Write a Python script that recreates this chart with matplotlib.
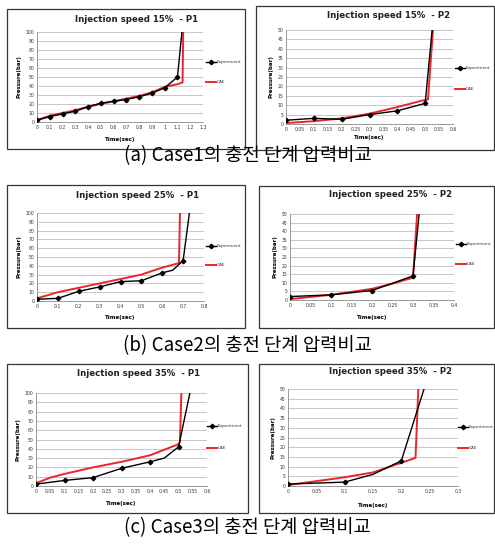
import matplotlib
matplotlib.use("Agg")
import matplotlib.pyplot as plt
from matplotlib.patches import Rectangle
import numpy as np

plt.rcParams['font.family'] = ['DejaVu Sans']

# ---------------- data ----------------
titles = ["Injection speed 15%  - P1", "Injection speed 15%  - P2",
          "Injection speed 25%  - P1", "Injection speed 25%  - P2",
          "Injection speed 35%  - P1", "Injection speed 35%  - P2"]
captions = ["(a) Case1의 충전 단계 압력비교",
            "(b) Case2의 충전 단계 압력비교",
            "(c) Case3의 충전 단계 압력비교"]

exp1_t = [0, 0.1, 0.2, 0.3, 0.4, 0.5, 0.6, 0.7, 0.8, 0.9, 1.0, 1.1, 1.135]
exp1_p = [2, 6, 9, 12, 17, 21, 23, 25, 28, 32, 38, 50, 100]
cae1_t = [0, 0.1, 0.2, 0.3, 0.4, 0.5, 0.6, 0.7, 0.8, 0.9, 1.0, 1.1, 1.14, 1.145]
cae1_p = [2, 7, 10, 13, 17, 20, 23, 26, 29, 33, 39, 42, 44, 100]

exp2_t = [0, 0.1, 0.2, 0.3, 0.4, 0.5, 0.525]
exp2_p = [2, 3, 2.5, 5, 7, 11, 50]
cae2_t = [0, 0.1, 0.2, 0.3, 0.4, 0.49, 0.51, 0.528]
cae2_p = [0.5, 1.5, 3, 5.5, 9, 12.5, 13, 50]

exp3_t = [0, 0.1, 0.2, 0.3, 0.4, 0.5, 0.6, 0.65, 0.7, 0.73]
exp3_p = [2, 3, 11, 16, 22, 23, 32, 35, 46, 100]
cae3_t = [0, 0.1, 0.2, 0.3, 0.4, 0.5, 0.6, 0.68, 0.685]
cae3_p = [3, 10, 15, 20, 25, 30, 38, 43, 100]

exp4_t = [0, 0.1, 0.2, 0.3, 0.315]
exp4_p = [2, 3, 5.5, 14, 50]
cae4_t = [0, 0.1, 0.2, 0.25, 0.3, 0.31]
cae4_p = [0.5, 3, 6.5, 9.5, 13, 50]

exp5_t = [0, 0.1, 0.2, 0.3, 0.4, 0.45, 0.5, 0.54]
exp5_p = [2, 6, 9, 19, 26, 30, 42, 100]
cae5_t = [0, 0.05, 0.1, 0.2, 0.3, 0.4, 0.5, 0.505, 0.51]
cae5_p = [3, 9, 13, 20, 26, 33, 45, 47, 100]

exp6_t = [0, 0.1, 0.15, 0.2, 0.24]
exp6_p = [1, 2, 6, 13, 50]
cae6_t = [0, 0.1, 0.15, 0.2, 0.225, 0.23]
cae6_p = [0.5, 4.5, 7, 12, 14.5, 50]

exp_marks = [[0, 1, 2, 3, 4, 5, 6, 7, 8, 9, 10, 11],
             [0, 1, 2, 3, 4, 5],
             [0, 1, 2, 3, 4, 5, 6, 8],
             [0, 1, 2, 3],
             [0, 1, 2, 3, 4, 6],
             [0, 1, 3]]

xmax = [1.3, 0.6, 0.8, 0.4, 0.6, 0.3]
xstep = [0.1, 0.05, 0.1, 0.05, 0.05, 0.05]
ymax = [100, 50, 100, 50, 100, 50]
ystep = [10, 5, 10, 5, 10, 5]

exps = [(exp1_t, exp1_p), (exp2_t, exp2_p), (exp3_t, exp3_p),
        (exp4_t, exp4_p), (exp5_t, exp5_p), (exp6_t, exp6_p)]
caes = [(cae1_t, cae1_p), (cae2_t, cae2_p), (cae3_t, cae3_p),
        (cae4_t, cae4_p), (cae5_t, cae5_p), (cae6_t, cae6_p)]

# ---------------- layout (pixels) ----------------
W, H = 495, 544
boxes = [(7, 9, 245, 149), (256, 6, 494, 150),
         (7, 185, 245, 328), (259, 186, 494, 328),
         (7, 364, 248, 513), (259, 364, 494, 513)]
plots = [(37, 32, 203, 122), (286, 30, 453, 124),
         (37, 213, 204, 301), (290, 214, 454, 300),
         (36, 393, 207, 486), (288, 389, 458, 486)]
title_pos = [(137, 20), (389, 16), (138, 196), (391, 194), (139, 373), (391, 372)]
xlab_y = [139, 138, 317, 317, 504, 505]
leg_pos = [(206, 62, 82), (455, 68, 89), (206, 246, 265),
           (456, 244, 264), (207, 426, 448), (458, 427, 448)]
cap_y = [156, 346, 528]

fig = plt.figure(figsize=(W / 100, H / 100), dpi=100)


def fx(x):
    return x / W


def fy(y):
    return 1 - y / H


def fmt(v):
    return ("%.2f" % v).rstrip('0').rstrip('.')


for i in range(6):
    bx0, by0, bx1, by1 = boxes[i]
    fig.patches.append(Rectangle((fx(bx0), fy(by1)), fx(bx1 - bx0), (by1 - by0) / H,
                                 transform=fig.transFigure, fill=False,
                                 edgecolor='#333333', linewidth=0.9))
    px0, py0, px1, py1 = plots[i]
    ax = fig.add_axes([fx(px0), fy(py1), fx(px1 - px0), (py1 - py0) / H])
    et, ep = exps[i]
    ct, cp = caes[i]
    ax.plot(ct, cp, color='#e8262b', linewidth=1.4, zorder=3, label='CAE')
    ax.plot(et, ep, color='black', linewidth=1.0, marker='D', markersize=2.3,
            markevery=exp_marks[i], zorder=4, label='Experiment')
    ax.set_xlim(0, xmax[i])
    ax.set_ylim(0, ymax[i])
    xt = np.round(np.arange(0, xmax[i] + 1e-9, xstep[i]), 2)
    ax.set_xticks(xt)
    ax.set_xticklabels([fmt(v) for v in xt])
    yt = np.arange(0, ymax[i] + 1, ystep[i])
    ax.set_yticks(yt)
    ax.set_yticklabels([str(int(v)) for v in yt])
    ax.tick_params(labelsize=3.3, length=0, pad=2, colors='#333333')
    ax.grid(axis='y', color='#b0b0b0', linewidth=0.5)
    ax.set_axisbelow(True)
    for s in ['top', 'right']:
        ax.spines[s].set_visible(False)
    for s in ['left', 'bottom']:
        ax.spines[s].set_color('#888888')
        ax.spines[s].set_linewidth(0.6)
    ax.set_ylabel('Pressure(bar)', fontsize=4, fontweight='bold', labelpad=3)
    fig.text(fx((px0 + px1) / 2), fy(xlab_y[i]), 'Time(sec)', fontsize=4,
             fontweight='bold', ha='center', va='center')
    tx, ty = title_pos[i]
    fig.text(fx(tx), fy(ty), titles[i], fontsize=6.2, fontweight='bold',
             ha='center', va='center', color='#222222')
    # legend entries
    lx, ly1, ly2 = leg_pos[i]
    fig.lines.append(plt.Line2D([fx(lx), fx(lx + 10)], [fy(ly1), fy(ly1)],
                                transform=fig.transFigure, color='black',
                                linewidth=1.0))
    fig.lines.append(plt.Line2D([fx(lx + 5)], [fy(ly1)], transform=fig.transFigure,
                                color='black', marker='D', markersize=2.3,
                                linestyle='None'))
    fig.lines.append(plt.Line2D([fx(lx), fx(lx + 10)], [fy(ly2), fy(ly2)],
                                transform=fig.transFigure, color='#e8262b',
                                linewidth=1.4))
    fig.text(fx(lx + 11), fy(ly1), 'Experiment', fontsize=3.1,
             ha='left', va='center', color='#333333')
    fig.text(fx(lx + 11), fy(ly2), 'CAE', fontsize=3.1, ha='left',
             va='center', color='#333333')

for j in range(3):
    fig.text(0.5, fy(cap_y[j]), captions[j], fontsize=13.5, ha='center',
             va='center', family=['Noto Sans CJK KR', 'DejaVu Sans'])

fig.savefig('out.png', dpi=100)
